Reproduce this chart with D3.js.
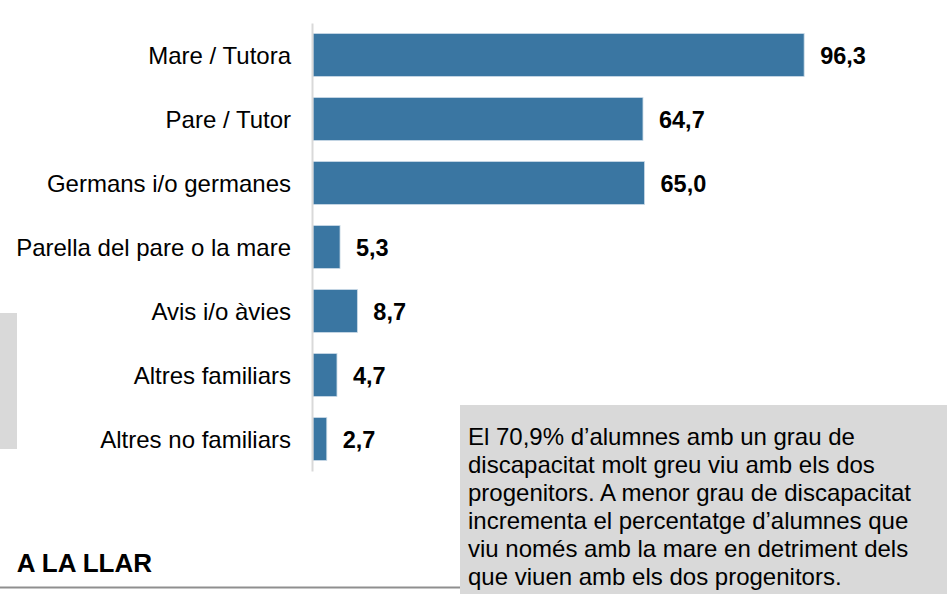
<!DOCTYPE html>
<html>
<head>
<meta charset="utf-8">
<script src="https://cdn.jsdelivr.net/npm/d3@7"></script>
<style>
  html, body { margin: 0; padding: 0; background: #fff; }
  svg { display: block; font-family: "Liberation Sans", Arial, sans-serif; }
</style>
</head>
<body>
<div class="barchart" data-width="947" data-height="594"></div>
<script>
var categories = [
    'Mare / Tutora',
    'Pare / Tutor',
    'Germans i/o germanes',
    'Parella del pare o la mare',
    'Avis i/o àvies',
    'Altres familiars',
    'Altres no familiars'
];
var values = [96.3, 64.7, 65.0, 5.3, 8.7, 4.7, 2.7];

var noteLines = [
    'El 70,9% d\u2019alumnes amb un grau de',
    'discapacitat molt greu viu amb els dos',
    'progenitors. A menor grau de discapacitat',
    'incrementa el percentatge d\u2019alumnes que',
    'viu només amb la mare en detriment dels',
    'que viuen amb els dos progenitors.'
];
var sectionTitle = 'A LA LLAR';

var data = categories.map(function(c, i) {
    return { cat: c, value: values[i] };
});

var width = 947, height = 594;

var locale = d3.formatLocale({ decimal: ',', thousands: '.', grouping: [3], currency: ['', '€'] });
var fmt = locale.format('.1f');

var svg = d3.select('.barchart')
    .append('svg')
    .attr('width', width)
    .attr('height', height);

// grey block peeking in on the left
svg.append('rect')
    .attr('x', 0).attr('y', 313)
    .attr('width', 17).attr('height', 136)
    .attr('fill', '#d9d9d9');

var x = d3.scaleLinear()
    .domain([0, 100])
    .range([313, 823]);

var y = d3.scaleBand()
    .domain(categories)
    .range([23, 471])
    .paddingInner(0.33)
    .paddingOuter(0.165);

var chart = svg.append('g').attr('class', 'chart');

chart.selectAll('.bar')
    .data(data)
    .enter().append('rect')
    .attr('class', 'bar')
    .attr('x', x(0))
    .attr('y', function(d) { return y(d.cat); })
    .attr('width', function(d) { return x(d.value) - x(0); })
    .attr('height', y.bandwidth())
    .attr('fill', '#3a76a2')
    .attr('stroke', '#c9d9e6')
    .attr('stroke-width', 0.8);

// axis on the left, only the line and the labels
var axis = chart.append('g')
    .attr('transform', 'translate(312,0)')
    .call(d3.axisLeft(y).tickSize(0).tickPadding(21));

axis.select('.domain')
    .attr('stroke', '#d9d9d9')
    .attr('stroke-width', 2);

axis.selectAll('text')
    .attr('fill', '#000')
    .style('font-size', '24px')
    .attr('dy', '0.36em');

chart.selectAll('.value')
    .data(data)
    .enter().append('text')
    .attr('class', 'value')
    .attr('x', function(d) { return x(d.value) + 16; })
    .attr('y', function(d) { return y(d.cat) + y.bandwidth() / 2; })
    .attr('dy', '0.38em')
    .style('font-size', '23.5px')
    .style('font-weight', 'bold')
    .attr('fill', '#000')
    .text(function(d) { return fmt(d.value); });

// section heading + rule
svg.append('line')
    .attr('x1', 0).attr('x2', 462)
    .attr('y1', 587.5).attr('y2', 587.5)
    .attr('stroke', '#8f8f8f')
    .attr('stroke-width', 2);

svg.append('text')
    .attr('x', 152)
    .attr('y', 572)
    .attr('text-anchor', 'end')
    .style('font-size', '26px')
    .style('font-weight', 'bold')
    .text(sectionTitle);

// note box
var note = svg.append('g').attr('class', 'note');
note.append('rect')
    .attr('x', 460).attr('y', 405)
    .attr('width', width - 460).attr('height', height - 405)
    .attr('fill', '#d9d9d9');

note.selectAll('text')
    .data(noteLines)
    .enter().append('text')
    .attr('x', 468)
    .attr('y', function(d, i) { return 445 + i * 28; })
    .style('font-size', '24px')
    .attr('fill', '#000')
    .text(function(d) { return d; });
</script>
</body>
</html>
